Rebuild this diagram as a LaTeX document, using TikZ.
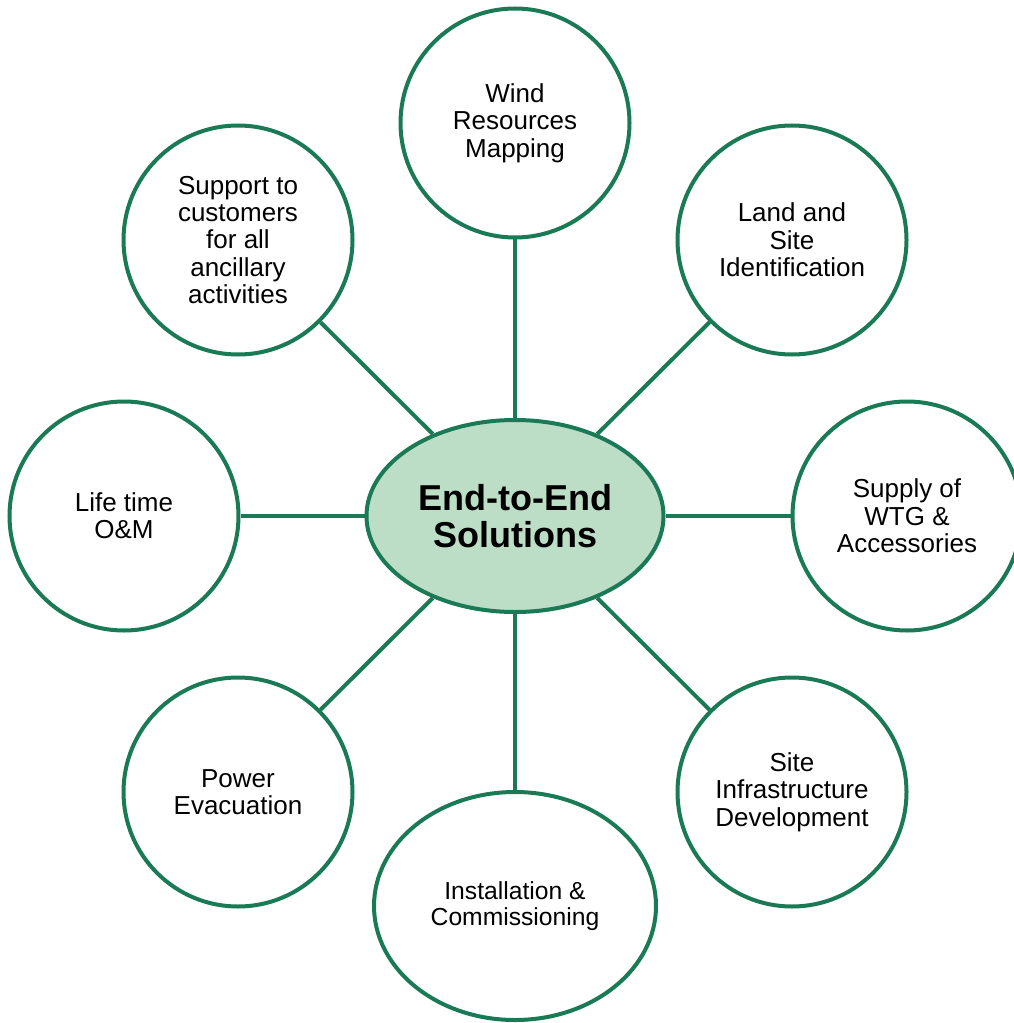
\documentclass[tikz,border=0pt]{standalone}
\usepackage{fontspec}
\setmainfont{Liberation Sans}
\usetikzlibrary{shapes.geometric}
\usetikzlibrary{shadows}
\usetikzlibrary{backgrounds}
\definecolor{leaf}{RGB}{26,122,86}
\definecolor{mint}{RGB}{188,222,198}

\begin{document}
\begin{tikzpicture}[x=0.75pt,y=-0.75pt,
        spoke/.style={draw=leaf,line width=3pt},
        bubble/.style={circle,draw=leaf,line width=3pt,fill=white,minimum size=171.75pt,inner sep=0pt,align=center,
            font=\fontsize{19.5}{20.5}\selectfont,
            drop shadow={opacity=0.12,shadow xshift=0.75pt,shadow yshift=-1.5pt}}]
    \useasboundingbox (0,0) rectangle (1013,1023);

    % hub
    \node[ellipse,draw=leaf,line width=3pt,fill=mint,minimum width=222.75pt,minimum height=144pt,inner sep=0pt,align=center,
        font=\fontsize{27}{28}\selectfont\bfseries,
        drop shadow={opacity=0.12,shadow xshift=0.75pt,shadow yshift=-1.5pt}] (core) at (515,516) {End-to-End\\Solutions};

    % ring of services
    \node[bubble] (wind) at (515,123) {Wind\\Resources\\Mapping};
    \node[bubble] (land) at (792,240) {Land and\\Site\\Identification};
    \node[bubble] (supply) at (907,516) {Supply of\\WTG \&\\Accessories};
    \node[bubble] (infra) at (792,792) {Site\\Infrastructure\\Development};
    \node[bubble,ellipse,minimum width=211.5pt,minimum height=171pt,font=\fontsize{18.5}{19}\selectfont] (install) at (515,906) {Installation \&\\Commissioning};
    \node[bubble] (power) at (238,792) {Power\\Evacuation};
    \node[bubble] (om) at (124,516) {Life time\\O\&M};
    \node[bubble] (support) at (238,240) {Support to\\customers\\for all\\ancillary\\activities};

    \begin{scope}[on background layer]
        \foreach \n in {wind,land,supply,infra,install,power,om,support}
            \draw[spoke] (core) -- (\n);
    \end{scope}
\end{tikzpicture}
\end{document}
